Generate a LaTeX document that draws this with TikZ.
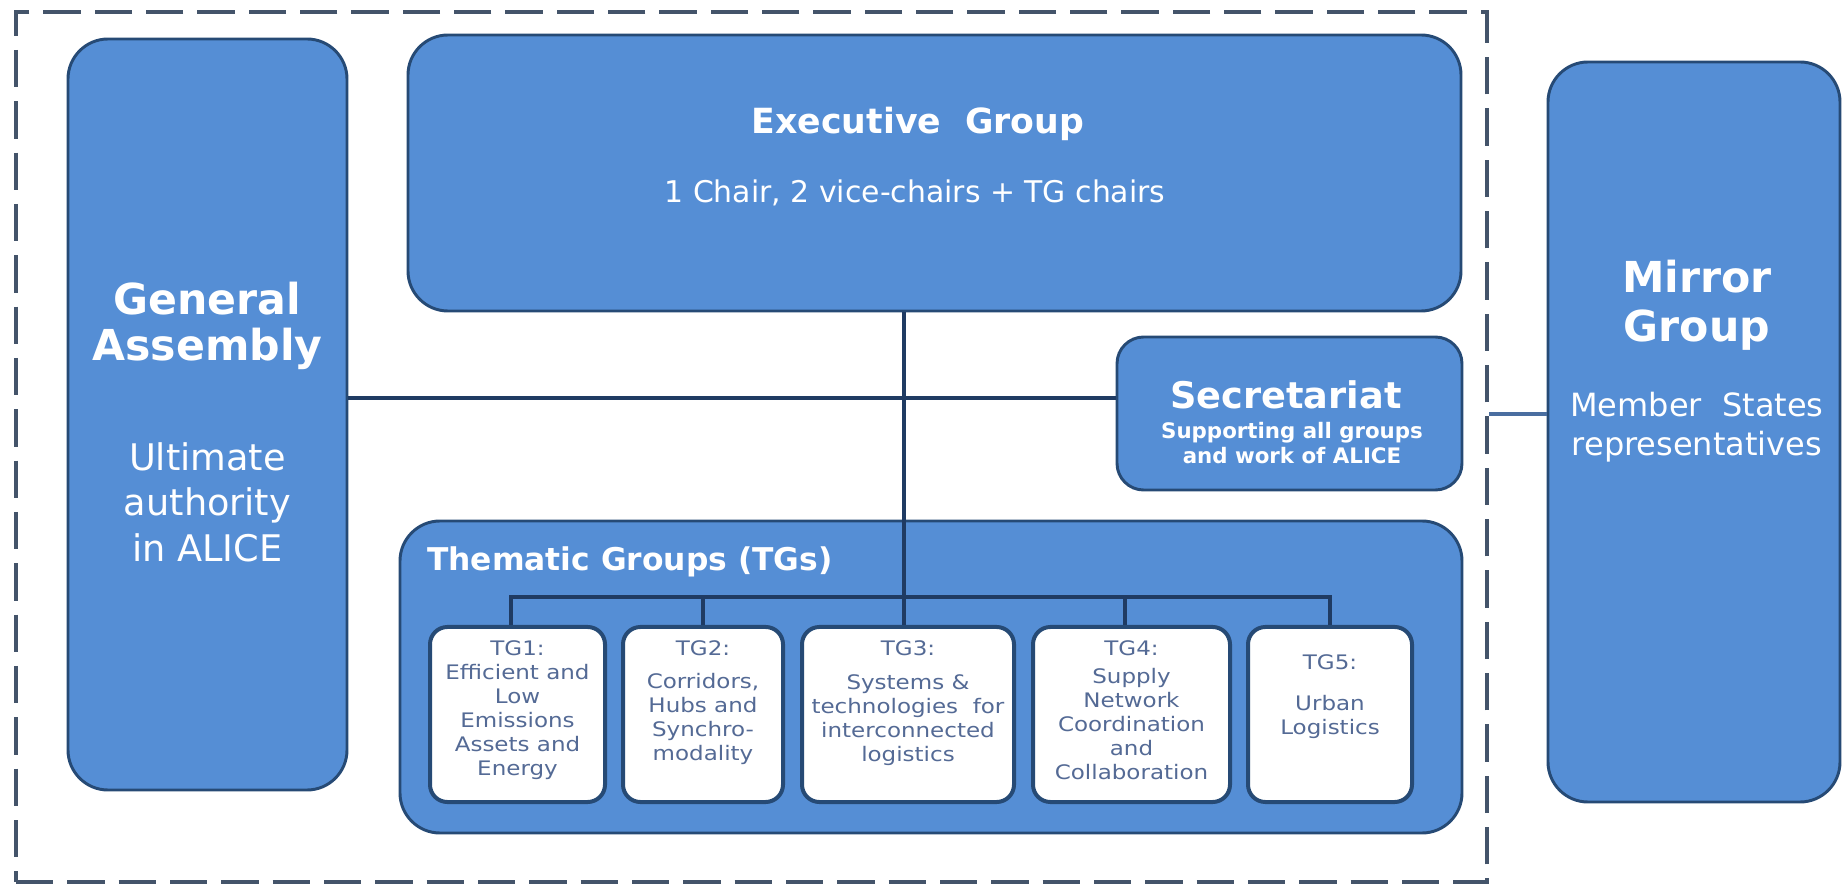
\documentclass[tikz,border=0pt]{standalone}
\usepackage{fontspec}
\setmainfont{DejaVu Sans}
\newfontfamily\tgfont{DejaVu Sans}[FakeStretch=1.15]
\definecolor{boxblue}{HTML}{558ED5}
\definecolor{navy}{HTML}{264A75}
\definecolor{linkc}{HTML}{1F3B63}
\definecolor{framec}{HTML}{44546A}
\definecolor{mirrorlink}{HTML}{4A6EA0}
\definecolor{tgtext}{HTML}{546A95}
\tikzset{
  sz/.style 2 args={minimum width=#1*0.75pt, minimum height=#2*0.75pt},
  bluebox/.style={draw=navy, line width=2.2pt, fill=boxblue, rounded corners=30pt, inner sep=0pt},
  tgbox/.style={draw=navy, line width=3pt, fill=white, rounded corners=13pt, inner sep=0pt},
  framebox/.style={draw=framec, line width=3pt, dash pattern=on 28pt off 10.5pt, inner sep=0pt},
  link/.style={draw=linkc, line width=2.8pt},
  wtext/.style={text=white, inner sep=0pt, align=center},
  tgtxt/.style={text=tgtext, inner sep=0pt, align=center, anchor=north, font=\tgfont\fontsize{15}{18}\selectfont},
}
\begin{document}
\begin{tikzpicture}[x=0.75pt,y=-0.75pt]
\useasboundingbox (0,0) rectangle (1843,887);
% outer dashed frame
\node[framebox, sz={1471}{870}] (frame) at (751.5,447) {};
% main boxes
\node[bluebox, sz={279}{751}] (ga) at (207.5,414.5) {};
\node[bluebox, sz={1053}{276}] (exec) at (934.5,173) {};
\node[bluebox, sz={345}{153}, rounded corners=20pt] (sec) at (1289.5,413.5) {};
\node[bluebox, sz={1062}{312}] (tgs) at (931,677) {};
\node[bluebox, sz={292}{740}] (mirror) at (1694,432) {};
% coordinates for connector heights
\coordinate (hl) at (0,398);
\coordinate (bus) at (0,597);
\coordinate (ml) at (0,414);
% TG boxes (positions)
\path (517.5,714.5) coordinate (c1) (703,714.5) coordinate (c2) (908,714.5) coordinate (c3)
      (1131.5,714.5) coordinate (c4) (1330,714.5) coordinate (c5)
      (511,714.5) coordinate (d1) (904,714.5) coordinate (d3) (1125,714.5) coordinate (d4);
% connectors
\draw[link] (ga.east |- hl) -- (sec.west |- hl);
\draw[link] (d3 |- exec.south) -- (d3 |- 0,627);
\draw[link, line width=3.4pt] (d1 |- 0,627) -- (d1 |- bus) -- (c5 |- bus) -- (c5 |- 0,627);
\draw[link, line width=3.4pt] (c2 |- bus) -- (c2 |- 0,627);
\draw[link, line width=3.4pt] (d4 |- bus) -- (d4 |- 0,627);
\draw[draw=mirrorlink, line width=2.6pt] (frame.east |- ml) -- (mirror.west |- ml);
% TG boxes
\node[tgbox, sz={175}{175}] (tg1) at (c1) {};
\node[tgbox, sz={160}{175}] (tg2) at (c2) {};
\node[tgbox, sz={212}{175}] (tg3) at (c3) {};
\node[tgbox, sz={197}{175}] (tg4) at (c4) {};
\node[tgbox, sz={164}{175}] (tg5) at (c5) {};
% texts
\node[wtext, font=\bfseries\fontsize{32}{35}\selectfont] (gat) at (207.5,326) {General\\Assembly};
\node[wtext, font=\fontsize{27.5}{34}\selectfont] (gas) at (207.5,502) {Ultimate\\authority\\in ALICE};
\node[wtext, font=\bfseries\fontsize{26}{31}\selectfont] (exect) at (918,124) {Executive\ \ Group};
\node[wtext, font=\fontsize{22.4}{27}\selectfont] (execs) at (915,193) {1 Chair, 2 vice-chairs + TG chairs};
\node[wtext, font=\bfseries\fontsize{27.5}{31}\selectfont] (sect) at (1286,395) {Secretariat};
\node[wtext, font=\bfseries\fontsize{16}{19}\selectfont] (secs) at (1292,443) {Supporting all groups\\and work of ALICE};
\node[wtext, font=\bfseries\fontsize{23.5}{28}\selectfont, anchor=west] (tgst) at (427,562) {Thematic Groups (TGs)};
\node[wtext, font=\bfseries\fontsize{32}{37}\selectfont] (mirt) at (1697,305) {Mirror\\Group};
\node[wtext, font=\fontsize{24}{29}\selectfont] (mirs) at (1697,427) {Member\ \ States\\representatives};
\node[tgtxt] (tg1t) at (517.5,640) {TG1:\\Efficient and\\Low\\Emissions\\Assets and\\Energy};
\node[tgtxt] (tg2t) at (703,640) {TG2:\\[7pt]Corridors,\\Hubs and\\Synchro-\\modality};
\node[tgtxt] (tg3t) at (908,640) {TG3:\\[8pt]Systems \&\\technologies\ \ for\\interconnected\\logistics};
\node[tgtxt] (tg4t) at (1131.5,640) {TG4:\\[3pt]Supply\\Network\\Coordination\\and\\Collaboration};
\node[tgtxt] (tg5t) at (1330,654) {TG5:\\[13pt]Urban\\Logistics};
\end{tikzpicture}
\end{document}
